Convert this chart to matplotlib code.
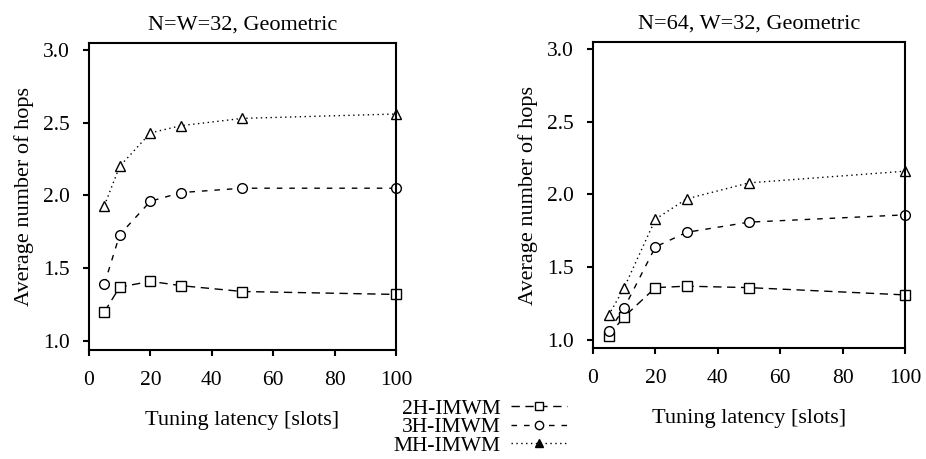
import matplotlib.pyplot as plt
from matplotlib.lines import Line2D

plt.rcParams['font.family'] = ['Liberation Serif', 'DejaVu Serif']

# tuning latency [slots]
latency = [5, 10, 20, 30, 50, 100]

# N=W=32, Geometric
left_2h = [1.20, 1.37, 1.41, 1.38, 1.34, 1.32]
left_3h = [1.39, 1.73, 1.96, 2.02, 2.05, 2.05]
left_mh = [1.93, 2.20, 2.43, 2.48, 2.53, 2.56]

# N=64, W=32, Geometric
right_2h = [1.03, 1.16, 1.36, 1.37, 1.36, 1.31]
right_3h = [1.06, 1.22, 1.64, 1.74, 1.81, 1.86]
right_mh = [1.17, 1.36, 1.83, 1.97, 2.08, 2.16]

labels = ["2H-IMWM", "3H-IMWM", "MH-IMWM"]
titles = ["N=W=32, Geometric", "N=64, W=32, Geometric"]
x_ticks = [0, 20, 40, 60, 80, 100]
y_ticks = [1.0, 1.5, 2.0, 2.5, 3.0]

styles = [
    dict(linestyle=(0, (6, 4)), marker='s', markersize=7, mfc='white'),
    dict(linestyle=(0, (4, 5)), marker='o', markersize=7, mfc='white'),
    dict(linestyle=(0, (1, 2.5)), marker='^', markersize=7, mfc='white'),
]

fig = plt.figure(figsize=(9.26, 4.59), dpi=100)
ax_l = fig.add_axes([0.0961, 0.2375, 0.3315, 0.6688])
ax_r = fig.add_axes([0.6404, 0.2418, 0.3369, 0.6667])

panels = [
    (ax_l, [left_2h, left_3h, left_mh], (0.938, 3.048)),
    (ax_r, [right_2h, right_3h, right_mh], (0.945, 3.048)),
]

for i, (ax, series, ylim) in enumerate(panels):
    for vals, st, lab in zip(series, styles, labels):
        ax.plot(latency, vals, color='black', linewidth=1.0, mec='black',
                mew=1.0, label=lab, clip_on=False, **st)
    ax.set_xlim(0, 100)
    ax.set_ylim(*ylim)
    ax.set_xticks(x_ticks)
    ax.set_yticks(y_ticks)
    ax.set_yticklabels([f"{t:.1f}" for t in y_ticks])
    ax.tick_params(direction='out', length=4, width=1.5, labelsize=15.5, pad=10)
    ax.tick_params(axis='x', pad=11)
    for sp in ax.spines.values():
        sp.set_linewidth(1.5)
    ax.set_title(titles[i], fontsize=16, pad=10)
    ax.set_xlabel("Tuning latency [slots]", fontsize=16, labelpad=15)
    ax.set_ylabel("Average number of hops", fontsize=16, labelpad=6)

handles = [Line2D([], [], color='black', linewidth=1.0, mec='black',
                  **dict(st, markersize=6))
           for st in styles]
handles[2].set_markerfacecolor('black')
fig.legend(handles, labels, loc='upper left', bbox_to_anchor=(0.425, 0.131),
           frameon=False, markerfirst=False, fontsize=15.5, handlelength=2.6,
           labelspacing=-0.08, handletextpad=0.5, borderpad=0, borderaxespad=0)

fig.savefig("out.png", dpi=100)
